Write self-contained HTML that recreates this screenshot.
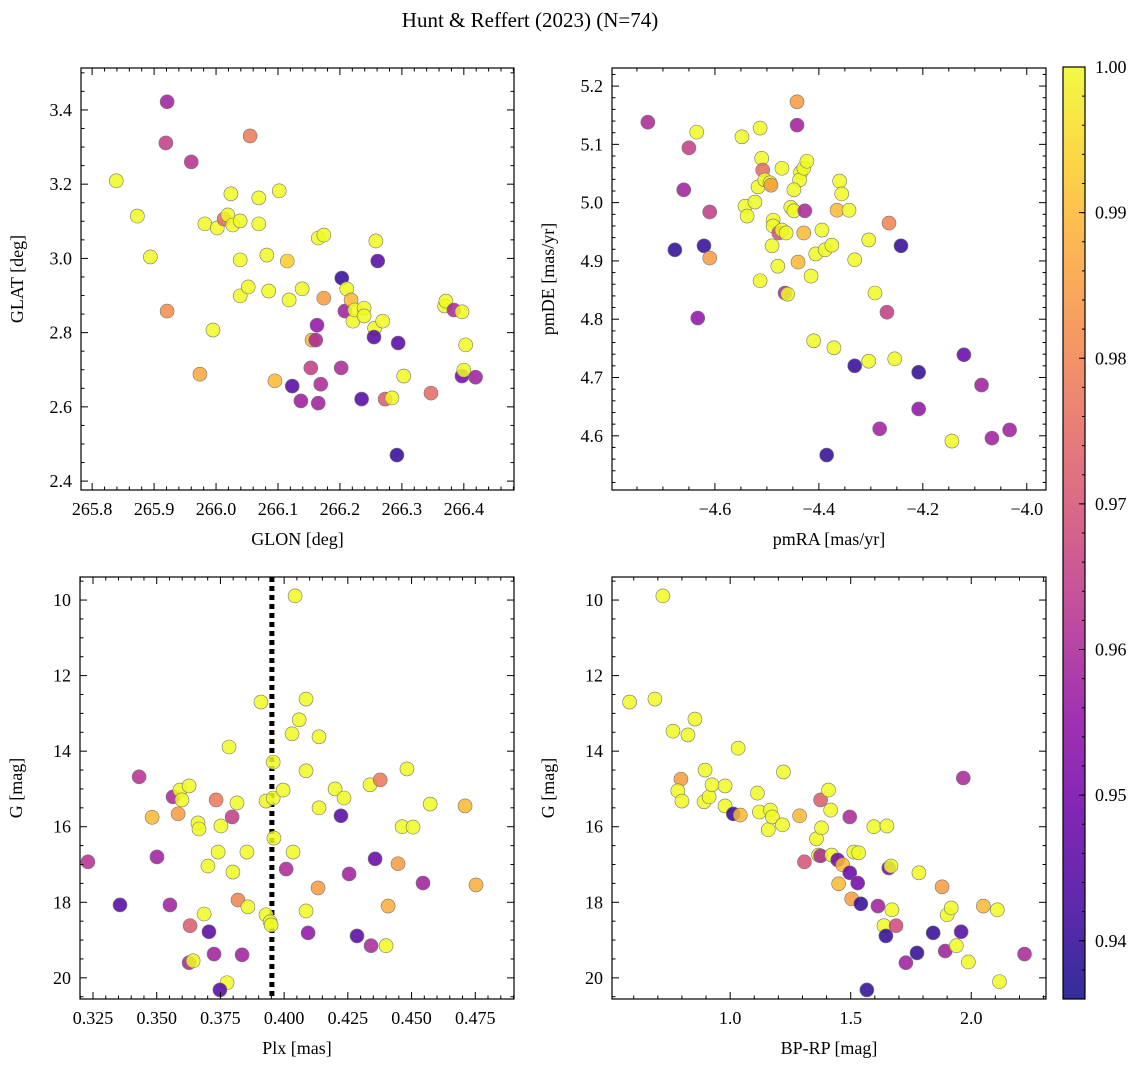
<!DOCTYPE html>
<html><head><meta charset="utf-8">
<style>
html,body{margin:0;padding:0;background:#fff;}
svg{display:block;font-family:"DejaVu Serif","Liberation Serif",serif;}
</style></head>
<body>
<svg id="fig" width="1148" height="1067" viewBox="0 0 1148 1067" xmlns="http://www.w3.org/2000/svg" style="font-family:'Liberation Serif',serif">
<text x="530" y="27" font-size="21" text-anchor="middle">Hunt &amp; Reffert (2023) (N=74)</text>
</svg>
<script>
// ---------- Panel 1: GLON / GLAT ----------
const glonVals=[265.839,265.873,265.894,265.921,265.919,265.960,265.921,265.974,265.982,265.995,266.002,266.013,266.019,266.024,266.027,266.039,266.039,266.039,266.052,266.055,266.069,266.069,266.082,266.085,266.095,266.102,266.115,266.118,266.123,266.137,266.139,266.153,266.155,266.161,266.163,266.165,266.165,266.169,266.174,266.174,266.203,266.202,266.208,266.211,266.218,266.221,266.224,266.235,266.239,266.239,266.256,266.258,266.255,266.261,266.269,266.273,266.284,266.292,266.294,266.303,266.347,266.369,266.371,266.384,266.397,266.397,266.400,266.403,266.419];
const glatVals=[3.209,3.114,3.004,3.422,3.311,3.260,2.858,2.688,3.093,2.807,3.082,3.106,3.117,3.174,3.090,3.101,2.996,2.899,2.923,3.330,3.163,3.093,3.009,2.912,2.670,3.182,2.993,2.888,2.656,2.616,2.918,2.705,2.780,2.780,2.820,3.055,2.610,2.661,2.893,3.063,2.947,2.705,2.858,2.918,2.888,2.831,2.861,2.621,2.866,2.845,2.812,3.047,2.788,2.993,2.831,2.621,2.624,2.470,2.772,2.683,2.637,2.872,2.885,2.861,2.856,2.683,2.699,2.767,2.680];
const prob1=[1,1,1,.958,.965,.962,.982,.987,1,1,1,.975,1,1,1,1,1,1,1,.978,1,1,1,1,.99,1,.993,1,.945,.957,1,.965,.99,.96,.955,1,.958,.96,.985,1,.94,.96,.958,1,.99,1,1,.945,1,1,1,1,.945,.945,1,.972,1,.94,.945,1,.975,1,1,.96,1,.95,1,1,.958];
// ---------- Panel 2: pmRA / pmDE ----------
const pmraVals=[-4.729,-4.635,-4.650,-4.660,-4.610,-4.677,-4.621,-4.610,-4.633,-4.548,-4.513,-4.510,-4.508,-4.542,-4.538,-4.523,-4.517,-4.504,-4.494,-4.492,-4.513,-4.488,-4.488,-4.490,-4.479,-4.477,-4.471,-4.465,-4.460,-4.454,-4.448,-4.463,-4.471,-4.442,-4.442,-4.435,-4.437,-4.429,-4.423,-4.448,-4.440,-4.429,-4.427,-4.415,-4.406,-4.410,-4.394,-4.388,-4.375,-4.371,-4.365,-4.360,-4.356,-4.342,-4.331,-4.331,-4.304,-4.304,-4.292,-4.283,-4.269,-4.265,-4.254,-4.242,-4.208,-4.208,-4.144,-4.121,-4.087,-4.067,-4.033,-4.385];
const pmdeVals=[5.138,5.121,5.094,5.022,4.984,4.919,4.926,4.905,4.802,5.113,5.128,5.076,5.056,4.994,4.977,5.001,5.027,5.039,5.034,5.030,4.866,4.970,4.960,4.926,4.891,4.948,4.953,4.845,4.843,4.992,4.986,4.948,5.059,5.173,5.133,5.052,5.039,5.059,5.071,5.022,4.898,4.948,4.986,4.874,4.912,4.763,4.953,4.919,4.927,4.751,4.987,5.037,5.015,4.987,4.902,4.720,4.936,4.728,4.845,4.612,4.812,4.965,4.732,4.926,4.709,4.646,4.591,4.739,4.687,4.596,4.610,4.567];
const prob2=[.96,1,.965,.958,.965,.94,.94,.985,.955,1,1,1,.975,1,1,1,1,1,1,.985,1,1,1,1,1,.97,1,.96,1,1,1,1,1,.985,.958,1,1,1,1,1,.99,.99,.96,1,1,1,1,1,1,1,.99,1,1,1,1,.94,1,1,1,.958,.965,.98,1,.94,.94,.955,1,.948,.958,.958,.958,.94];
// ---------- Panel 3: Plx / G ----------
const plxVals=[0.3230,0.3356,0.3431,0.3482,0.3501,0.3564,0.3591,0.3599,0.3627,0.3584,0.3552,0.3631,0.3627,0.3643,0.3662,0.3666,0.3686,0.3701,0.3705,0.3725,0.3741,0.3733,0.3752,0.3776,0.3748,0.3784,0.3796,0.3799,0.3815,0.3819,0.3835,0.3854,0.3858,0.3909,0.3929,0.3929,0.3945,0.3949,0.3957,0.3957,0.3960,0.3996,0.4008,0.4035,0.4031,0.4043,0.4059,0.4086,0.4086,0.4086,0.4094,0.4133,0.4137,0.4137,0.4200,0.4223,0.4235,0.4255,0.4286,0.4341,0.4337,0.4357,0.4377,0.4400,0.4408,0.4447,0.4463,0.4482,0.4506,0.4545,0.4573,0.4710,0.4753];
const gVals3=[16.93,18.07,14.68,15.75,16.80,15.21,15.03,15.29,14.92,15.66,18.07,18.62,19.60,19.55,15.90,16.06,18.31,17.04,18.78,19.37,16.67,15.29,15.98,20.13,20.32,13.89,15.74,17.20,15.37,17.94,19.39,16.67,18.12,12.70,15.32,18.33,18.52,18.60,14.29,15.24,16.30,15.03,17.12,16.67,13.54,9.89,13.17,12.62,14.52,18.23,18.81,17.62,15.50,13.62,15.00,15.71,15.24,17.25,18.89,19.15,14.89,16.85,14.76,19.15,18.10,16.98,16.00,14.47,16.01,17.49,15.40,15.45,17.54];
const prob3=[.962,.945,.962,.99,.958,.96,1,1,1,.985,.958,.972,.96,1,1,1,1,1,.945,.958,1,.978,1,1,.945,1,.965,1,1,.98,.958,1,1,1,1,1,1,1,1,1,1,1,.96,1,1,1,1,1,1,1,.955,.985,1,1,1,.945,1,.958,.945,.96,1,.948,.978,1,.988,.985,1,1,1,.958,1,.99,.988];
const plxCut=[0.3952];
// ---------- Panel 4: BP-RP / G ----------
const bprpVals=[0.721,0.583,0.688,0.763,0.825,0.854,0.796,0.783,0.800,0.896,0.892,0.913,0.925,0.979,0.979,1.013,1.042,1.033,1.113,1.121,1.158,1.167,1.175,1.217,1.221,1.288,1.308,1.358,1.367,1.375,1.379,1.375,1.408,1.417,1.421,1.446,1.450,1.467,1.496,1.496,1.504,1.513,1.529,1.533,1.542,1.567,1.596,1.613,1.638,1.646,1.650,1.658,1.667,1.671,1.688,1.729,1.775,1.783,1.842,1.879,1.892,1.900,1.917,1.938,1.958,1.967,1.988,2.050,2.108,2.117,2.221];
const gVals4=[9.89,12.70,12.62,13.47,13.57,13.15,14.74,15.05,15.32,14.50,15.34,15.21,14.89,14.92,15.45,15.66,15.69,13.92,15.11,15.61,16.08,15.56,15.74,15.95,14.55,15.71,16.93,16.32,16.75,15.29,16.03,16.77,15.03,15.56,16.75,16.88,17.51,17.01,15.74,17.22,17.91,16.67,17.49,16.69,18.04,20.32,16.00,18.10,18.62,18.89,15.98,17.09,17.04,18.20,18.62,19.60,19.34,17.22,18.81,17.59,19.29,18.33,18.15,19.15,18.78,14.71,19.58,18.10,18.20,20.10,19.37];
const prob4=[1,1,1,1,1,1,.985,1,1,1,1,1,1,1,1,.94,.99,1,1,1,1,1,1,1,1,.99,.97,1,1,.972,1,.96,1,1,1,.95,.99,.99,.96,.948,.985,1,.95,1,.94,.94,1,.958,1,.94,1,.95,1,1,.968,.958,.94,1,.94,.985,.958,1,1,1,.945,.96,1,.99,1,1,.96];
// ---------- Colorbar ----------
const cbTicks=[0.94,0.95,0.96,0.97,0.98,0.99,1.00];
const cbRange=[0.936,1.0];

const NS="http://www.w3.org/2000/svg";
const svg=document.getElementById('fig');
function mk(tag,attrs,parent){const e=document.createElementNS(NS,tag);for(const k in attrs)e.setAttribute(k,attrs[k]);(parent||svg).appendChild(e);return e;}
const stops=["#0d0887","#41049d","#6a00a8","#8f0da4","#b12a90","#cc4778","#e16462","#f2844b","#fca636","#fcce25","#f0f921"];
function hex(h){return [1,3,5].map(i=>parseInt(h.substr(i,2),16));}
function plasma(t){t=Math.max(0,Math.min(1,t));const f=t*10,i=Math.min(9,Math.floor(f)),r=f-i;const a=hex(stops[i]),b=hex(stops[i+1]);return 'rgb('+a.map((v,k)=>Math.round(v+(b[k]-v)*r)).join(',')+')';}
function cmap(p){return plasma((p-cbRange[0])/(cbRange[1]-cbRange[0]));}

function panel(o){
  const g=mk('g',{});
  
  
  const X=v=>o.L+(v-o.xmin)/(o.xmax-o.xmin)*(o.R-o.L);
  const Y=o.yinv?(v=>o.T+(v-o.ymin)/(o.ymax-o.ymin)*(o.B-o.T)):(v=>o.B-(v-o.ymin)/(o.ymax-o.ymin)*(o.B-o.T));
  const clipId='clip-'+o.name;
  const cp=mk('clipPath',{id:clipId},g);mk('rect',{x:o.L,y:o.T,width:o.R-o.L,height:o.B-o.T},cp);
  const pts=mk('g',{'clip-path':'url(#'+clipId+')'},g);
  if(o.vline){const l=mk('line',{x1:X(o.vline[0]),x2:X(o.vline[0]),y1:o.T,y2:o.B,stroke:'#000','stroke-width':5,'stroke-dasharray':'5,4'},pts);
    
    }
  o.xs.forEach((v,i)=>{const c=mk('circle',{cx:X(v),cy:Y(o.ys[i]),r:7,fill:cmap(o.cs[i]),'fill-opacity':0.85,stroke:'#777','stroke-width':0.6},pts);
    
    });
  const fr=mk('rect',{x:o.L,y:o.T,width:o.R-o.L,height:o.B-o.T,fill:'none',stroke:'#000','stroke-width':1.2},g);
  
  
  const eps=1e-9;
  for(let v=Math.ceil(o.xmin/o.xminor-eps)*o.xminor;v<=o.xmax+eps;v+=o.xminor){
    const isMaj=Math.abs(v/o.xmajor-Math.round(v/o.xmajor))<1e-6;const len=isMaj?7:3.5;const x=X(v);
    mk('line',{x1:x,x2:x,y1:o.B,y2:o.B-len,stroke:'#000','stroke-width':1},g);
    mk('line',{x1:x,x2:x,y1:o.T,y2:o.T+len,stroke:'#000','stroke-width':1},g);
    if(isMaj){const t=mk('text',{x:x,y:o.B+25,'font-size':18,'text-anchor':'middle'},g);
      
      
      t.textContent=o.xfmt(Math.round(v/o.xmajor)*o.xmajor);}
  }
  for(let v=Math.ceil(o.ymin/o.yminor-eps)*o.yminor;v<=o.ymax+eps;v+=o.yminor){
    const isMaj=Math.abs(v/o.ymajor-Math.round(v/o.ymajor))<1e-6;const len=isMaj?7:3.5;const y=Y(v);
    mk('line',{x1:o.L,x2:o.L+len,y1:y,y2:y,stroke:'#000','stroke-width':1},g);
    mk('line',{x1:o.R,x2:o.R-len,y1:y,y2:y,stroke:'#000','stroke-width':1},g);
    if(isMaj){const t=mk('text',{x:o.L-9,y:y+6,'font-size':18,'text-anchor':'end'},g);
      
      
      t.textContent=o.yfmt(Math.round(v/o.ymajor)*o.ymajor);}
  }
  const xl=mk('text',{x:(o.L+o.R)/2,y:o.B+55,'font-size':18,'text-anchor':'middle'},g);
  
  
  xl.textContent=o.xlabel;
  const yx=o.L-58;const yy=(o.T+o.B)/2;
  const yl=mk('text',{x:yx,y:yy,'font-size':18,'text-anchor':'middle',transform:'rotate(-90 '+yx+' '+yy+')'},g);
  
  
  yl.textContent=o.ylabel;
}
const mfmt=d=>v=>(v<0?'\u2212':'')+Math.abs(v).toFixed(d);
panel({name:'glon-glat-panel',L:81,R:514,T:68,B:490,xmin:265.782,xmax:266.481,ymin:2.376,ymax:3.513,xmajor:0.1,xminor:0.02,ymajor:0.2,yminor:0.05,xfmt:mfmt(1),yfmt:mfmt(1),xs:glonVals,ys:glatVals,cs:prob1,xlabel:'GLON [deg]',ylabel:'GLAT [deg]'});
panel({name:'pm-panel',L:612,R:1046,T:68,B:490,xmin:-4.798,xmax:-3.963,ymin:4.507,ymax:5.231,xmajor:0.2,xminor:0.05,ymajor:0.1,yminor:0.02,xfmt:mfmt(1),yfmt:mfmt(1),xs:pmraVals,ys:pmdeVals,cs:prob2,xlabel:'pmRA [mas/yr]',ylabel:'pmDE [mas/yr]'});
panel({name:'plx-g-panel',L:80,R:514,T:577,B:999,xmin:0.3199,xmax:0.4902,ymin:9.39,ymax:20.56,yinv:true,xmajor:0.025,xminor:0.005,ymajor:2,yminor:0.5,xfmt:mfmt(3),yfmt:mfmt(0),xs:plxVals,ys:gVals3,cs:prob3,vline:plxCut,xlabel:'Plx [mas]',ylabel:'G [mag]'});
panel({name:'cmd-panel',L:612,R:1046,T:577,B:999,xmin:0.51,xmax:2.31,ymin:9.39,ymax:20.56,yinv:true,xmajor:0.5,xminor:0.1,ymajor:2,yminor:0.5,xfmt:mfmt(1),yfmt:mfmt(0),xs:bprpVals,ys:gVals4,cs:prob4,xlabel:'BP-RP [mag]',ylabel:'G [mag]'});

const cb=mk('g',{});


const cL=1063,cR=1085,cT=67,cB=999;
const defs=mk('defs',{},cb);const gr=mk('linearGradient',{id:'cbgrad',x1:0,y1:1,x2:0,y2:0},defs);
for(let i=0;i<=20;i++){mk('stop',{offset:i/20,'stop-color':plasma(i/20),'stop-opacity':0.85},gr);}
mk('rect',{x:cL,y:cT,width:cR-cL,height:cB-cT,fill:'url(#cbgrad)',stroke:'#000','stroke-width':1.2},cb);
const CY=v=>cB-(v-cbRange[0])/(cbRange[1]-cbRange[0])*(cB-cT);
for(let v=0.936;v<=1.0001;v+=0.002){const y=CY(v);mk('line',{x1:cR,x2:cR-3,y1:y,y2:y,stroke:'#000','stroke-width':1},cb);}
cbTicks.forEach(v=>{const y=CY(v);mk('line',{x1:cR,x2:cR-6,y1:y,y2:y,stroke:'#000','stroke-width':1},cb);
  const t=mk('text',{x:cR+10,y:y+6,'font-size':18},cb);
  
  
  t.textContent=v.toFixed(2);});
</script>
</body></html>
